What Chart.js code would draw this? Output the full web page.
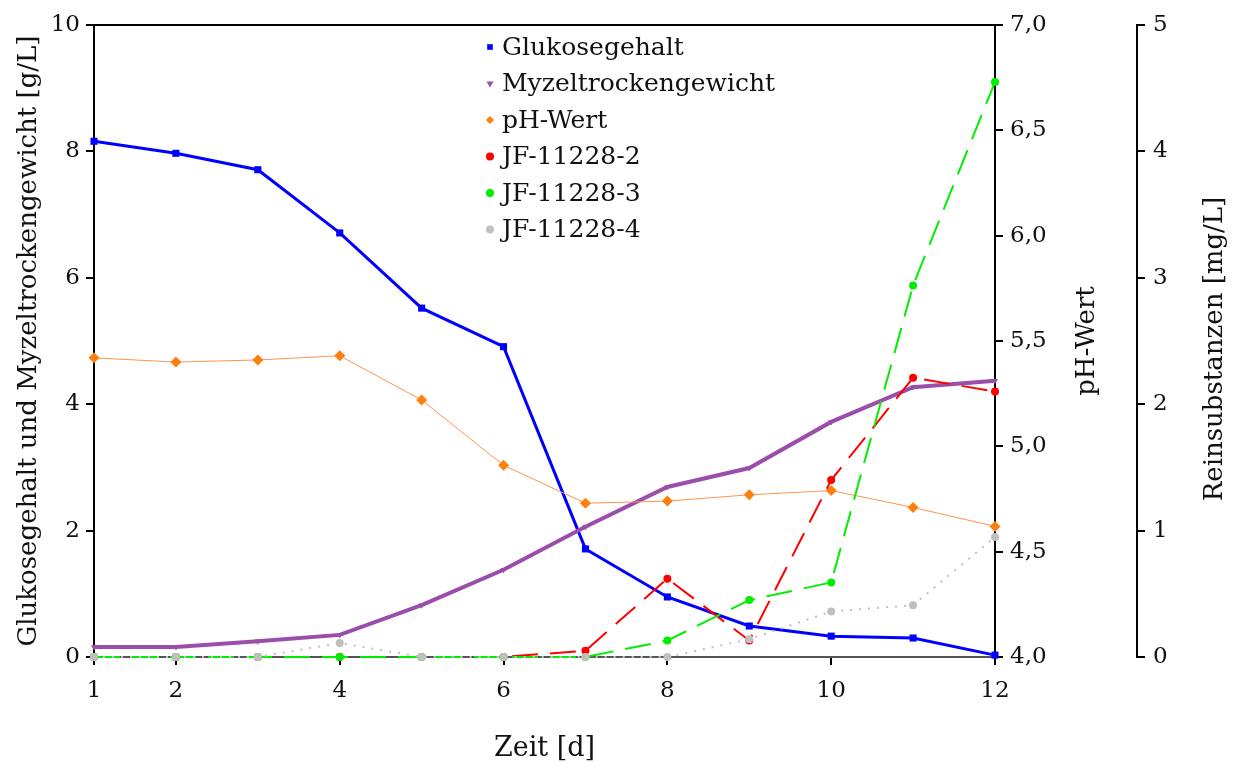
<!DOCTYPE html>
<html>
<head>
<meta charset="utf-8">
<script src="https://cdn.jsdelivr.net/npm/chart.js@4"></script>
<style>
  html, body { margin: 0; padding: 0; background: #fff; }
  #wrap { width: 1237px; height: 762px; position: relative; }
</style>
</head>
<body>
<div id="wrap"><canvas id="myChart"></canvas></div>
<script>
const days = [1, 2, 3, 4, 5, 6, 7, 8, 9, 10, 11, 12];
const dayTicks = [1, 2, 4, 6, 8, 10, 12];
const glukose = [8.16, 7.97, 7.71, 6.71, 5.52, 4.91, 1.71, 0.95, 0.49, 0.33, 0.30, 0.03];
const myzel = [0.16, 0.16, 0.25, 0.35, 0.82, 1.38, 2.06, 2.69, 2.99, 3.72, 4.27, 4.37];
const phWert = [5.42, 5.40, 5.41, 5.43, 5.22, 4.91, 4.73, 4.74, 4.77, 4.79, 4.71, 4.62];
const jf2 = [0, 0, 0, 0, 0, 0, 0.05, 0.62, 0.13, 1.40, 2.21, 2.10];
const jf3 = [0, 0, 0, 0, 0, 0, 0, 0.13, 0.45, 0.59, 2.94, 4.55];
const jf4 = [0, 0, 0, 0.11, 0, 0, 0, 0, 0.14, 0.36, 0.41, 0.95];

const serif = "'DejaVu Serif', serif";

function pts(values) {
    return values.map((v, i) => ({ x: days[i], y: v }));
}

// legend drawn inside the plot, markers only (no line swatch)
const innerLegend = {
    id: 'innerLegend',
    afterDraw(chart) {
        const ctx = chart.ctx;
        ctx.save();
        ctx.font = '25px ' + serif;
        ctx.textBaseline = 'middle';
        ctx.textAlign = 'left';
        chart.data.datasets.forEach((ds, i) => {
            const y = 47 + i * 36.5;
            ctx.fillStyle = ds.pointBackgroundColor;
            ctx.strokeStyle = ds.pointBackgroundColor;
            Chart.helpers.drawPoint(ctx, {
                pointStyle: ds.pointStyle,
                rotation: ds.pointRotation || 0,
                radius: 4,
                borderWidth: 0
            }, 490, y);
            ctx.fillStyle = '#111';
            ctx.fillText(ds.label, 502, y + 1);
        });
        ctx.restore();
    }
};

// titles of the right axes read bottom-to-top
const rightTitles = {
    id: 'rightTitles',
    afterDraw(chart) {
        const ctx = chart.ctx;
        const mid = (chart.chartArea.top + chart.chartArea.bottom) / 2;
        ctx.save();
        ctx.font = '26px ' + serif;
        ctx.fillStyle = '#111';
        ctx.textAlign = 'center';
        ctx.textBaseline = 'middle';
        [['pH-Wert', 1087, mid], ['Reinsubstanzen [mg/L]', 1215, mid + 8]].forEach(([t, x, y]) => {
            ctx.save();
            ctx.translate(x, y);
            ctx.rotate(-Math.PI / 2);
            ctx.fillText(t, 0, 0);
            ctx.restore();
        });
        ctx.restore();
    }
};

const axisGrid = { drawOnChartArea: false, drawTicks: true, tickLength: 8, color: '#000', lineWidth: 2 };
const tickFont = { family: serif, size: 23 };

let ctx = document.getElementById('myChart').getContext('2d');
let chart = new Chart(ctx, {
    type: 'line',
    data: {
        datasets: [{
            label: 'Glukosegehalt',
            data: pts(glukose),
            yAxisID: 'y',
            order: 6,
            borderColor: '#0000ff',
            borderWidth: 3,
            pointStyle: 'rect',
            pointRadius: 5,
            pointBackgroundColor: '#0000ff',
            pointBorderWidth: 0
        }, {
            label: 'Myzeltrockengewicht',
            data: pts(myzel),
            yAxisID: 'y',
            order: 5,
            borderColor: '#9b4dab',
            borderWidth: 4,
            pointStyle: 'triangle',
            pointRotation: 180,
            pointRadius: 3.5,
            pointBackgroundColor: '#9b4dab',
            pointBorderWidth: 0
        }, {
            label: 'pH-Wert',
            data: pts(phWert),
            yAxisID: 'yPH',
            order: 4,
            borderColor: '#ff9250',
            borderWidth: 1,
            pointStyle: 'rectRot',
            pointRadius: 5.5,
            pointBackgroundColor: '#ff7f0e',
            pointBorderWidth: 0
        }, {
            label: 'JF-11228-2',
            data: pts(jf2),
            yAxisID: 'yR',
            order: 3,
            borderColor: '#ff0000',
            borderWidth: 2,
            borderDash: [26, 12],
            pointStyle: 'circle',
            pointRadius: 4,
            pointBackgroundColor: '#ff0000',
            pointBorderWidth: 0
        }, {
            label: 'JF-11228-3',
            data: pts(jf3),
            yAxisID: 'yR',
            order: 2,
            borderColor: '#00ee00',
            borderWidth: 2,
            borderDash: [26, 12],
            pointStyle: 'circle',
            pointRadius: 4,
            pointBackgroundColor: '#00ee00',
            pointBorderWidth: 0
        }, {
            label: 'JF-11228-4',
            data: pts(jf4),
            yAxisID: 'yR',
            order: 1,
            borderColor: '#c0c0c0',
            borderWidth: 2,
            borderDash: [2, 7],
            pointStyle: 'circle',
            pointRadius: 4,
            pointBackgroundColor: '#c0c0c0',
            pointBorderWidth: 0
        }]
    },
    options: {
        responsive: true,
        maintainAspectRatio: false,
        animation: false,
        clip: false,
        layout: { padding: 0 },
        plugins: {
            legend: { display: false },
            tooltip: { enabled: false }
        },
        scales: {
            x: {
                type: 'linear',
                position: 'bottom',
                min: 1,
                max: 12,
                afterBuildTicks: scale => { scale.ticks = dayTicks.map(v => ({ value: v })); },
                afterFit: scale => { scale.height = 105; },
                grid: axisGrid,
                border: { color: '#555', width: 2 },
                ticks: { color: '#111', font: tickFont, padding: 12, maxRotation: 0 },
                title: { display: true, text: 'Zeit [d]', color: '#111', font: { family: serif, size: 27, lineHeight: 1.2 }, padding: { top: 0, bottom: -3 } }
            },
            xTop: {
                type: 'linear',
                position: 'top',
                min: 1,
                max: 12,
                afterFit: scale => { scale.height = 25; },
                grid: { display: false },
                border: { color: '#000', width: 2 },
                ticks: { display: false }
            },
            y: {
                position: 'left',
                min: 0,
                max: 10,
                afterFit: scale => { scale.width = 94; },
                grid: axisGrid,
                border: { color: '#000', width: 2 },
                ticks: { stepSize: 2, color: '#111', font: tickFont, padding: 6 },
                title: { display: true, text: 'Glukosegehalt und Myzeltrockengewicht [g/L]', color: '#111', font: { family: serif, size: 26, lineHeight: 1.2 }, padding: { top: 14, bottom: 0 } }
            },
            yPH: {
                position: 'right',
                weight: 1,
                min: 4,
                max: 7,
                afterFit: scale => { scale.width = 142; },
                grid: axisGrid,
                border: { color: '#000', width: 2 },
                ticks: { stepSize: 0.5, color: '#111', font: tickFont, padding: 7, callback: v => v.toFixed(1).replace('.', ',') }
            },
            yR: {
                position: 'right',
                weight: 2,
                min: 0,
                max: 5,
                afterFit: scale => { scale.width = 100; },
                grid: axisGrid,
                border: { color: '#000', width: 2 },
                ticks: { stepSize: 1, color: '#111', font: tickFont, padding: 8 }
            }
        }
    },
    plugins: [innerLegend, rightTitles]
});
</script>
</body>
</html>
